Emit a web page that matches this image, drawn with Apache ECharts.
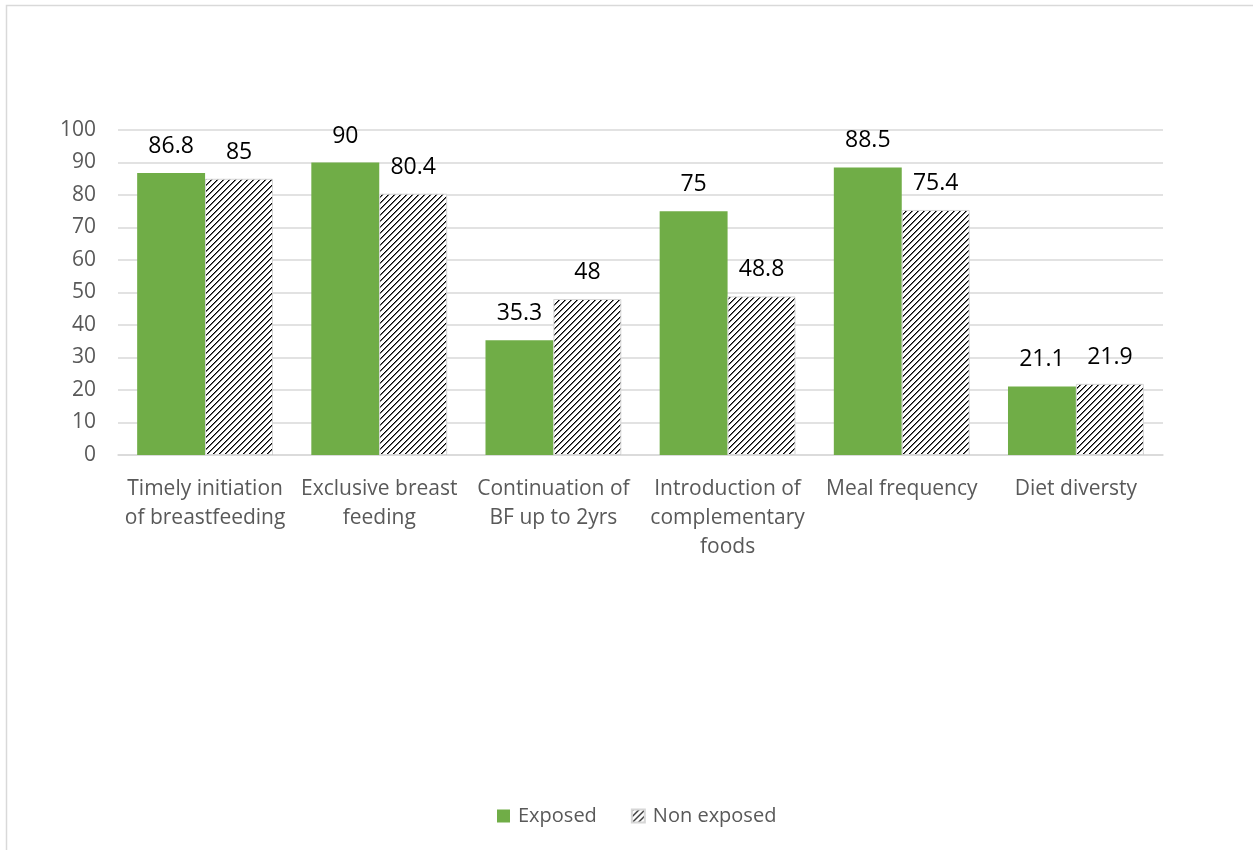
<!DOCTYPE html>
<html>
<head>
<meta charset="utf-8">
<title>Infant feeding practices: exposed vs non exposed</title>
<script src="https://cdn.jsdelivr.net/npm/echarts@6/dist/echarts.min.js"></script>
<style>
  html, body { margin: 0; padding: 0; background: #ffffff; }
  #chart { width: 1253px; height: 850px; }
</style>
</head>
<body>
<div id="chart"></div>
<script>
// Feeding indicators (percent)
const categories = [
  'Timely initiation\nof breastfeeding',
  'Exclusive breast\nfeeding',
  'Continuation of\nBF up to 2yrs',
  'Introduction of\ncomplementary\nfoods',
  'Meal frequency',
  'Diet diversty'
];
const exposed = [86.8, 90, 35.3, 75, 88.5, 21.1];
const nonExposed = [85, 80.4, 48, 48.8, 75.4, 21.9];
const seriesNames = ['Exposed', 'Non exposed'];

// Black "/" hatch on white, tiled
function makeHatch() {
  const size = 6;
  const c = document.createElement('canvas');
  c.width = size; c.height = size;
  const ctx = c.getContext('2d');
  ctx.fillStyle = '#ffffff';
  ctx.fillRect(0, 0, size, size);
  for (let x = 0; x < size; x++) {
    for (let y = 0; y < size; y++) {
      const k = (x + y) % size;
      if (k === 0) { ctx.fillStyle = '#000000'; ctx.fillRect(x, y, 1, 1); }
      else if (k === 1) { ctx.fillStyle = '#6a6a6a'; ctx.fillRect(x, y, 1, 1); }
    }
  }
  return c;
}
const hatch = makeHatch();

const font = '"Open Sans", "Noto Sans", "Liberation Sans", sans-serif';
const labelStyle = {
  show: true,
  position: 'top',
  distance: 15,
  color: '#000000',
  fontSize: 23,
  fontFamily: font
};

const chart = echarts.init(document.getElementById('chart'), null, { renderer: 'canvas' });
chart.setOption({
  backgroundColor: '#ffffff',
  animation: false,
  graphic: [{
    type: 'rect',
    shape: { x: 6.5, y: 5.5, width: 1300, height: 900 },
    style: { fill: 'none', stroke: '#d9d9d9', lineWidth: 1.5 },
    silent: true
  }],
  grid: { left: 118, right: 90, top: 130, bottom: 395, containLabel: false },
  legend: {
    bottom: 19,
    left: 492,
    itemWidth: 13,
    itemHeight: 13,
    itemGap: 34,
    icon: 'rect',
    textStyle: { color: '#595959', fontSize: 20, fontFamily: font, padding: [0, 0, 0, 3] },
    data: seriesNames
  },
  xAxis: {
    type: 'category',
    data: categories,
    axisLine: { show: true, lineStyle: { color: '#d9d9d9', width: 1.5 } },
    axisTick: { show: false },
    axisLabel: {
      color: '#595959',
      fontSize: 21,
      fontFamily: font,
      lineHeight: 29,
      margin: 20,
      interval: 0
    }
  },
  yAxis: {
    type: 'value',
    min: 0,
    max: 100,
    interval: 10,
    axisLine: { show: false },
    axisTick: { show: false },
    splitLine: { lineStyle: { color: '#d9d9d9', width: 1.5 } },
    axisLabel: {
      color: '#595959',
      fontSize: 21,
      fontFamily: font,
      margin: 22
    }
  },
  series: [
    {
      name: seriesNames[0],
      type: 'bar',
      data: exposed,
      barGap: '0%',
      barCategoryGap: '22%',
      itemStyle: { color: '#70ad47' },
      label: labelStyle
    },
    {
      name: seriesNames[1],
      type: 'bar',
      data: nonExposed,
      barGap: '0%',
      barCategoryGap: '22%',
      itemStyle: {
        color: { image: hatch, repeat: 'repeat' },
        borderColor: '#d6d6d6',
        borderWidth: 1
      },
      label: labelStyle
    }
  ]
});
</script>
</body>
</html>
